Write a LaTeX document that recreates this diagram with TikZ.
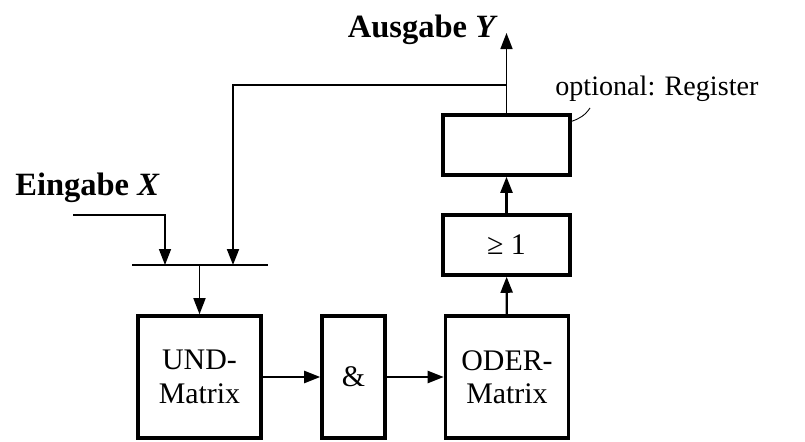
\documentclass[tikz,border=0pt]{standalone}
\usepackage{fontspec}
\setmainfont{Liberation Serif}
\usetikzlibrary{positioning, arrows.meta}

\begin{document}
\begin{tikzpicture}[
  font=\fontsize{17}{19}\selectfont,
  block/.style={minimum width=2.46cm, minimum height=2.44cm, draw, line width=2pt, align=center, inner sep=0pt},
  gate/.style={minimum width=2.54cm, minimum height=1.2cm, draw, line width=2pt, inner sep=0pt},
  arrow/.style={-{Triangle[length=0.32cm, width=0.24cm]}, line width=0.9pt},
  wire/.style={line width=0.9pt},
  iolabel/.style={font=\fontsize{18.5}{20}\selectfont\bfseries, inner sep=0pt},
  note/.style={font=\fontsize{16}{18}\selectfont, inner sep=0pt},
  leader/.style={line width=0.5pt}
]
\useasboundingbox (0,0) rectangle (16.1,8.82);

% --- Matrices ---
\node[block] (und) at (3.99,1.28) {UND-\\Matrix};
\node[block, minimum width=1.26cm] (and) at (7.07,1.28) {\&};
\node[block] (oder) at (10.14,1.28) {ODER-\\Matrix};

\draw[arrow, line width=1.3pt] (und) -- (and);
\draw[arrow, line width=1.3pt] (and) -- (oder);

% --- OR and register ---
\node[gate] (or) at (10.13,3.92) {≥ 1};
\node[gate] (reg) at (10.13,5.92) {};

\draw[arrow, line width=1.3pt] (oder) -- (or);
\draw[arrow, line width=1.3pt] (or) -- (reg);

% --- Input bus ---
\coordinate (busl) at (2.64,3.52);
\coordinate (busr) at (5.36,3.52);
\draw[wire] (busl) -- (busr);
\draw[arrow] (und.north |- busl) -- (und.north);

\node[iolabel, anchor=base west] (inX) at (0.3,4.92) {Eingabe \textit{X}};
\coordinate (xin) at (1.46,4.52);
\coordinate (xbus) at (3.30,3.52);
\draw[arrow] (xin) -| (xbus);

% --- Output and feedback ---
\node[iolabel, anchor=base east] (outY) at (9.96,8.08) {Ausgabe \textit{Y}};
\coordinate (yout) at (10.13,8.16);
\draw[arrow] (reg.north) -- (yout);

\coordinate (ytap) at (10.13,7.12);
\coordinate (fbus) at (4.66,3.52);
\draw[arrow, line width=1.1pt] (ytap) -| (fbus);

% --- Register note ---
\node[note, anchor=base west] (optlbl) at (11.1,6.92) {optional: Register};
\coordinate (optend) at (11.8,6.66);
\draw[leader] ([yshift=-0.16cm]reg.north east) .. controls +(0.15,0.05) and +(-0.1,-0.15) .. (optend);

\end{tikzpicture}
\end{document}
